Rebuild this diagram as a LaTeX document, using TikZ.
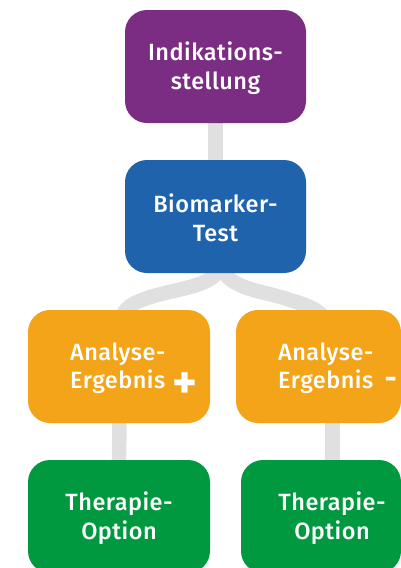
\documentclass[tikz,border=0pt]{standalone}
\usepackage{fontspec}
\setmainfont{Fira Sans}[UprightFont=* Medium, BoldFont=* Bold, LetterSpace=2]
\usetikzlibrary{backgrounds}
\definecolor{cpurple}{HTML}{7B2D84}
\definecolor{cblue}{HTML}{1F63AD}
\definecolor{corange}{HTML}{F4A419}
\definecolor{cgreen}{HTML}{009940}
\definecolor{cgray}{HTML}{E0E0E0}
\newcommand{\bigplus}{\hspace{1pt}\smash{\raisebox{-10pt}{\bfseries\fontsize{47}{28}\selectfont +}}}
\newcommand{\bigminus}{\hspace{5pt}\smash{\raisebox{0pt}{\bfseries\fontsize{30}{28}\selectfont -}}}
\begin{document}
\begin{tikzpicture}[x=1pt,y=-1pt,
  box/.style={rounded corners=22pt, minimum height=113pt, inner sep=0pt, draw=none},
  txt/.style={text=white, font=\fontsize{23.5}{28.5}\selectfont, align=center, inner sep=0pt},
  conn/.style={draw=cgray, line width=14.5pt, line join=round}]
\useasboundingbox (0,0) rectangle (401,568);
\node[box, fill=cpurple, minimum width=181pt] (p) at (215.5,66.5) {};
\node[box, fill=cblue, minimum width=181pt] (b) at (215.5,216.5) {};
\node[box, fill=corange, minimum width=182pt] (oL) at (119,366.5) {};
\node[box, fill=corange, minimum width=165pt] (oR) at (318.5,366.5) {};
\node[box, fill=cgreen, minimum width=182pt] (gL) at (119,516.5) {};
\node[box, fill=cgreen, minimum width=160pt] (gR) at (321,516.5) {};
\node[txt] (tp) at (215.5,68) {Indikations-\\stellung};
\node[txt] (tb) at (215.5,218) {Biomarker-\\Test};
\node[txt, align=left, anchor=west] (toL) at (70,368) {Analyse-\\Ergebnis \bigplus};
\node[txt, align=left, anchor=west] (toR) at (278,368) {Analyse-\\Ergebnis \bigminus};
\node[txt] (tgL) at (119,518) {Therapie-\\Option};
\node[txt] (tgR) at (332,518) {Therapie-\\Option};
\coordinate (split) at (221,266);
\coordinate (mL) at (135,303);
\coordinate (mR) at (290,300);
\coordinate (eL) at (119.5,338);
\coordinate (eR) at (332.5,345);
\begin{scope}[on background layer]
\draw[conn] (p) -- (b);
\draw[conn] (b) -- (split) .. controls (214,290) and (165,288) .. (mL) .. controls (122,310) and (119.5,318) .. (eL) -- (eL |- oL);
\draw[conn] (split) .. controls (228,290) and (266,291) .. (mR) .. controls (306,305) and (332.5,310) .. (eR) -- (eR |- oR);
\draw[conn] (119.5,366.5) -- (gL);
\draw[conn] (332.5,366.5) -- (332.5,516.5);
\end{scope}
\end{tikzpicture}
\end{document}
